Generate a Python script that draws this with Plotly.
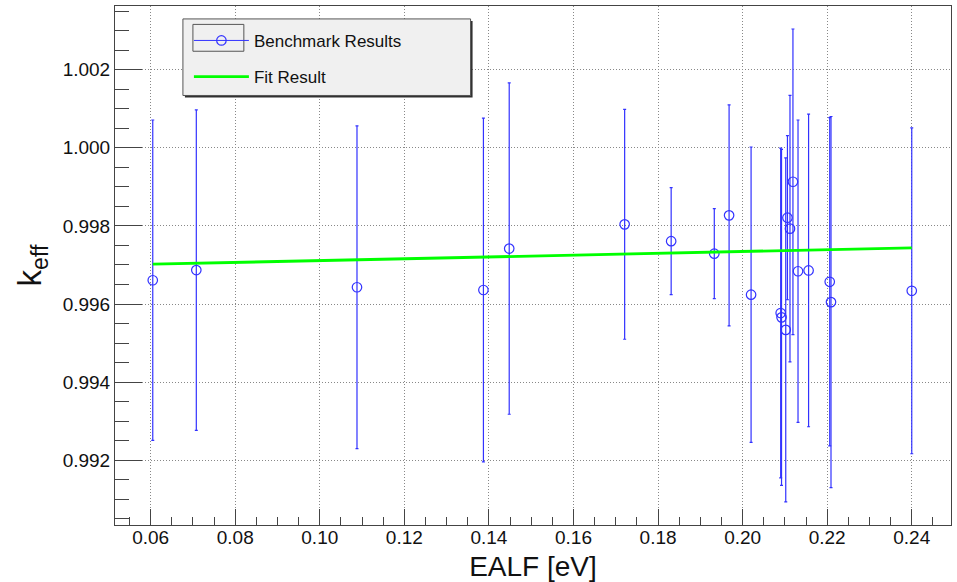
import plotly.graph_objects as go

# ---- data ----
ealf = [0.0605, 0.0708, 0.1088, 0.1387, 0.1448, 0.1721, 0.1831, 0.1933, 0.1968,
        0.2020, 0.2090, 0.2092, 0.2102, 0.2106, 0.2112, 0.2119, 0.2131, 0.2156,
        0.2206, 0.2209, 0.2400]
keff = [0.99661, 0.99687, 0.99643, 0.99636, 0.99742, 0.99804, 0.99761, 0.99729,
        0.99827, 0.99624, 0.99577, 0.99566, 0.99534, 0.99821, 0.99793, 0.99913,
        0.99684, 0.99686, 0.99657, 0.99605, 0.99634]
keff_unc = [0.00410, 0.00410, 0.00413, 0.00440, 0.00424, 0.00294, 0.00137, 0.00115,
            0.00283, 0.00378, 0.00422, 0.00430, 0.00440, 0.00210, 0.00341, 0.00391,
            0.00387, 0.00400, 0.00420, 0.00475, 0.00417]
fit_x = [0.0605, 0.2400]
fit_y = [0.99702, 0.99744]

x_ticks = [0.06, 0.08, 0.10, 0.12, 0.14, 0.16, 0.18, 0.20, 0.22, 0.24]
x_tick_labels = ["0.06", "0.08", "0.10", "0.12", "0.14", "0.16", "0.18", "0.20", "0.22", "0.24"]
y_ticks = [0.992, 0.994, 0.996, 0.998, 1.000, 1.002]
y_tick_labels = ["0.992", "0.994", "0.996", "0.998", "1.000", "1.002"]

FONT = "Liberation Sans, Arial, Helvetica, sans-serif"
BLUE = "rgb(50,50,255)"
GREEN = "#00ff00"

fig = go.Figure()

# data points with error bars
fig.add_trace(go.Scatter(
    x=ealf, y=keff, mode="markers", showlegend=False, name="Benchmark Results",
    marker=dict(symbol="circle-open", size=9.5, color=BLUE, line=dict(width=1.2, color=BLUE)),
    error_y=dict(type="data", array=keff_unc, visible=True, color=BLUE, thickness=1.2, width=1.5),
))
# fit line
fig.add_trace(go.Scatter(
    x=fit_x, y=fit_y, mode="lines", name="Fit Result", showlegend=False,
    line=dict(color=GREEN, width=2.8),
))
# legend-only entries
fig.add_trace(go.Scatter(
    x=[None], y=[None], mode="lines+markers", name="Benchmark Results",
    legendgroup="a",
    line=dict(color=BLUE, width=1),
    marker=dict(symbol="circle-open", size=9.5, color=BLUE, line=dict(width=1.2, color=BLUE)),
))
fig.add_trace(go.Scatter(
    x=[None], y=[None], mode="lines", name="Fit Result", legendgroup="b",
    line=dict(color=GREEN, width=2.8),
))

# legend box (background, shadow, symbol frame) in paper coords
W, H = 957, 582
L, R, T, B = 115, 5, 6, 54
pw, ph = W - L - R, H - T - B
def px(x):
    return (x - L) / pw
def py(y):
    return (H - B - y) / ph

shapes = [
    dict(type="rect", xref="paper", yref="paper", x0=px(185), x1=px(473), y0=py(21), y1=py(98),
         fillcolor="#303030", line=dict(width=0), layer="above"),
    dict(type="rect", xref="paper", yref="paper", x0=px(183), x1=px(471), y0=py(19), y1=py(96),
         fillcolor="#f0f0f0", line=dict(color="#555", width=1), layer="above"),
    dict(type="rect", xref="paper", yref="paper", x0=px(193), x1=px(244), y0=py(24.5), y1=py(51.5),
         fillcolor="rgba(0,0,0,0)", line=dict(color="#555", width=1), layer="above"),
]

axis_common = dict(
    showline=True, linecolor="#444", linewidth=1, mirror=True,
    ticks="inside", tickcolor="#444", tickwidth=1,
    showgrid=True, gridcolor="#888", griddash="1px,2px", gridwidth=1,
    zeroline=False,
    tickfont=dict(family=FONT, size=19, color="#111"),
)

fig.update_layout(
    width=W, height=H,
    margin=dict(l=L, r=R, t=T, b=B, pad=0),
    paper_bgcolor="white", plot_bgcolor="white",
    font=dict(family=FONT, color="#111"),
    shapes=shapes,
    showlegend=True,
    legend=dict(x=px(189), y=py(23), xanchor="left", yanchor="top",
                bgcolor="rgba(0,0,0,0)", borderwidth=0,
                font=dict(family=FONT, size=17, color="#111"),
                tracegroupgap=11, traceorder="grouped", itemwidth=55),
    xaxis=dict(
        **axis_common,
        range=[0.05157, 0.24928],
        tickvals=x_ticks, ticktext=x_tick_labels, ticklen=16, ticklabelstandoff=-5,
        minor=dict(dtick=0.005, tick0=0.0, ticklen=8, ticks="inside", tickcolor="#444", showgrid=False),
        title=dict(text="EALF [eV]", font=dict(family=FONT, size=28, color="#111"), standoff=10),
    ),
    yaxis=dict(
        **axis_common,
        range=[0.990346, 1.003628],
        tickvals=y_ticks, ticktext=y_tick_labels, ticklen=27,
        minor=dict(dtick=0.0005, tick0=0.99, ticklen=14, ticks="inside", tickcolor="#444", showgrid=False),
        title=dict(text="k<sub>eff</sub>", font=dict(family=FONT, size=33, color="#111"), standoff=11),
    ),
)

fig.write_html("out.html", config={"displayModeBar": False},
               post_script="document.body.style.margin='0';")
